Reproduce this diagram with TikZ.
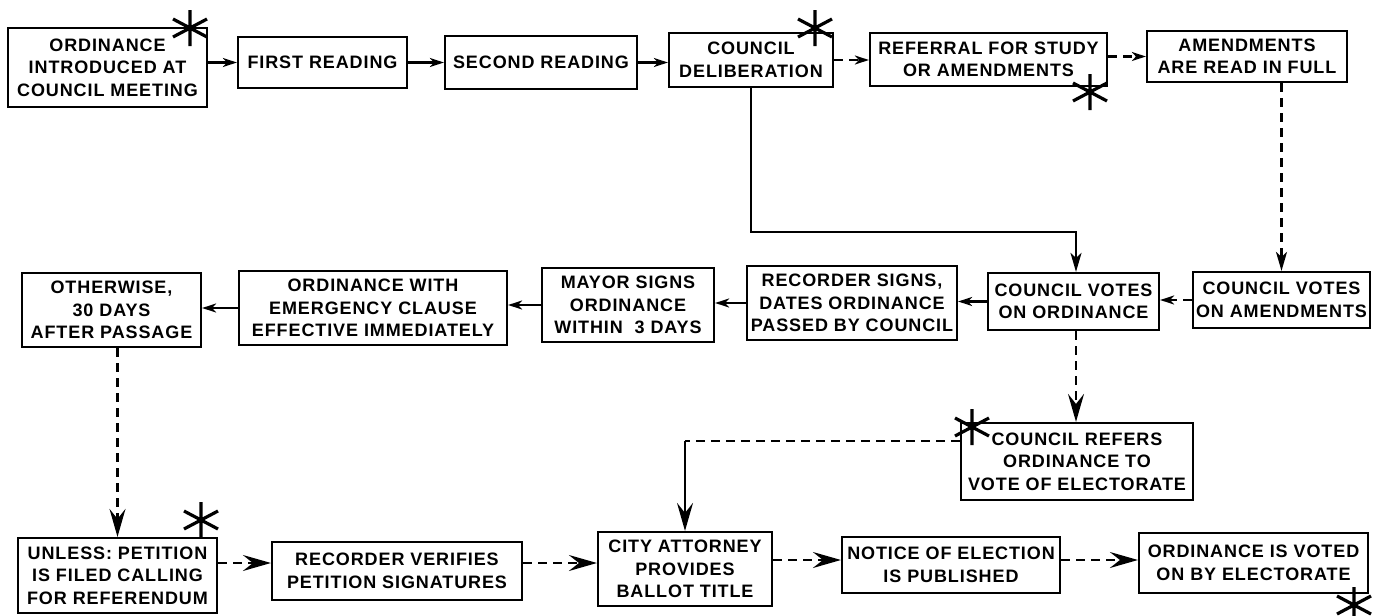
\documentclass[tikz,border=0pt]{standalone}
\usepackage{fontspec}
\newfontfamily\boxfont{Liberation Sans}[LetterSpace=5]
\usetikzlibrary{arrows.meta,calc}
\begin{document}
\begin{tikzpicture}[x=1pt,y=-1pt,
  box/.style={draw, line width=2.2pt, align=center, inner sep=0pt,
    font=\boxfont\bfseries\fontsize{18}{22.5}\selectfont},
  conn/.style={line width=2.2pt},
  dsh/.style={conn, dash pattern=on 9pt off 6pt},
  tipS/.style={-{Stealth[length=14pt,width=9pt,inset=4pt]}},
  tipM/.style={-{Stealth[length=19pt,width=11pt,inset=5pt]}},
  tipL/.style={-{Stealth[length=28pt,width=16pt,inset=10pt]}},
  ast/.pic={\draw[line width=3.2pt] (0,-18)--(0,18) (-17,-9)--(17,9) (-17,9)--(17,-9);}
]
\useasboundingbox (0,0) rectangle (1385,616);

% row 1
\node[box, minimum width=199pt, minimum height=79pt] (intro) at (107.5,67.5) {ORDINANCE\\INTRODUCED AT\\COUNCIL MEETING};
\node[box, minimum width=169pt, minimum height=51pt] (first) at (322.5,62.5) {FIRST READING};
\node[box, minimum width=192pt, minimum height=53pt] (second) at (541,62.5) {SECOND READING};
\node[box, minimum width=164pt, minimum height=54pt] (delib) at (751,60) {COUNCIL\\DELIBERATION};
\node[box, minimum width=237pt, minimum height=53pt] (referral) at (988.5,59.5) {REFERRAL FOR STUDY\\OR AMENDMENTS};
\node[box, minimum width=200pt, minimum height=51pt] (amend) at (1247,56.5) {AMENDMENTS\\ARE READ IN FULL};

% row 2
\node[box, minimum width=179pt, minimum height=74pt] (otherwise) at (111.5,310) {OTHERWISE,\\30 DAYS\\AFTER PASSAGE};
\node[box, minimum width=268pt, minimum height=74pt] (emergency) at (373,308) {ORDINANCE WITH\\EMERGENCY CLAUSE\\EFFECTIVE IMMEDIATELY};
\node[box, minimum width=172pt, minimum height=74pt] (mayor) at (628,305) {MAYOR SIGNS\\ORDINANCE\\WITHIN\ \ 3 DAYS};
\node[box, minimum width=210pt, minimum height=74pt] (recorder) at (852,303) {RECORDER SIGNS,\\DATES ORDINANCE\\PASSED BY COUNCIL};
\node[box, minimum width=171pt, minimum height=57pt] (voteord) at (1073.5,301.5) {COUNCIL VOTES\\ON ORDINANCE};
\node[box, minimum width=177pt, minimum height=56pt] (voteamend) at (1281.5,300) {COUNCIL VOTES\\ON AMENDMENTS};

% row 3
\node[box, minimum width=232pt, minimum height=77pt] (refers) at (1077,461.5) {COUNCIL REFERS\\ORDINANCE TO\\VOTE OF ELECTORATE};

% row 4
\node[box, minimum width=199pt, minimum height=75pt] (unless) at (117.5,575.5) {UNLESS: PETITION\\IS FILED CALLING\\FOR REFERENDUM};
\node[box, minimum width=250pt, minimum height=58pt] (verifies) at (397,571) {RECORDER VERIFIES\\PETITION SIGNATURES};
\node[box, minimum width=174pt, minimum height=74pt] (city) at (685,569) {CITY ATTORNEY\\PROVIDES\\BALLOT TITLE};
\node[box, minimum width=218pt, minimum height=56pt] (notice) at (951,565) {NOTICE OF ELECTION\\IS PUBLISHED};
\node[box, minimum width=229pt, minimum height=60pt] (voted) at (1253.5,563) {ORDINANCE IS VOTED\\ON BY ELECTORATE};

% helper coordinates
\coordinate (vx) at (1076,0);
\coordinate (c1) at (751,232);
\coordinate (c2) at (685,441);
\coordinate (a1) at ($(verifies.west)+(0,-8)$);
\coordinate (a2) at ($(verifies.east)+(0,-8)$);
\coordinate (a3) at ($(notice.west)+(0,-5)$);
\coordinate (a4) at ($(notice.east)+(0,-5)$);

% row 1 connectors
\draw[conn,tipS] (intro.east |- first.west) -- (first.west);
\draw[conn,tipS] (first.east) -- (second.west);
\draw[conn,tipS] (second.east) -- (delib.west |- second.east);
\draw[dsh,tipS] (delib.east) -- (referral.west |- delib.east);
\draw[dsh,tipS] (referral.east |- amend.west) -- (amend.west);
\draw[conn,tipM] (delib.south) -- (c1) -- (c1 -| vx) -- (vx |- voteord.north);
\draw[dsh,tipM] (amend.south -| voteamend.north) -- (voteamend.north);

% row 2 connectors
\draw[dsh,tipS] (voteamend.west) -- (voteord.east |- voteamend.west);
\draw[conn,tipS] (voteord.west) -- (recorder.east |- voteord.west);
\draw[conn,tipS] (recorder.west) -- (mayor.east |- recorder.west);
\draw[conn,tipS] (mayor.west) -- (emergency.east |- mayor.west);
\draw[conn,tipS] (emergency.west) -- (otherwise.east |- emergency.west);
\draw[dsh,tipL] (otherwise.south -| unless.north) -- (unless.north);
\draw[dsh,tipL] (vx |- voteord.south) -- (vx |- refers.north);
\draw[dsh] (refers.west |- c2) -- (c2);
\draw[conn,tipL] (c2) -- (city.north);

% row 4 connectors
\draw[dsh,tipL] (unless.east |- a1) -- (a1);
\draw[dsh,tipL] (a2) -- (city.west |- a2);
\draw[dsh,tipL] (city.east |- a3) -- (a3);
\draw[dsh,tipL] (a4) -- (voted.west |- a4);

% asterisks
\pic at (190,28) {ast};
\pic at (815,28) {ast};
\pic at (1090,92) {ast};
\pic at (972,427) {ast};
\pic at (201,520) {ast};
\pic at (1354,605) {ast};
\end{tikzpicture}
\end{document}
